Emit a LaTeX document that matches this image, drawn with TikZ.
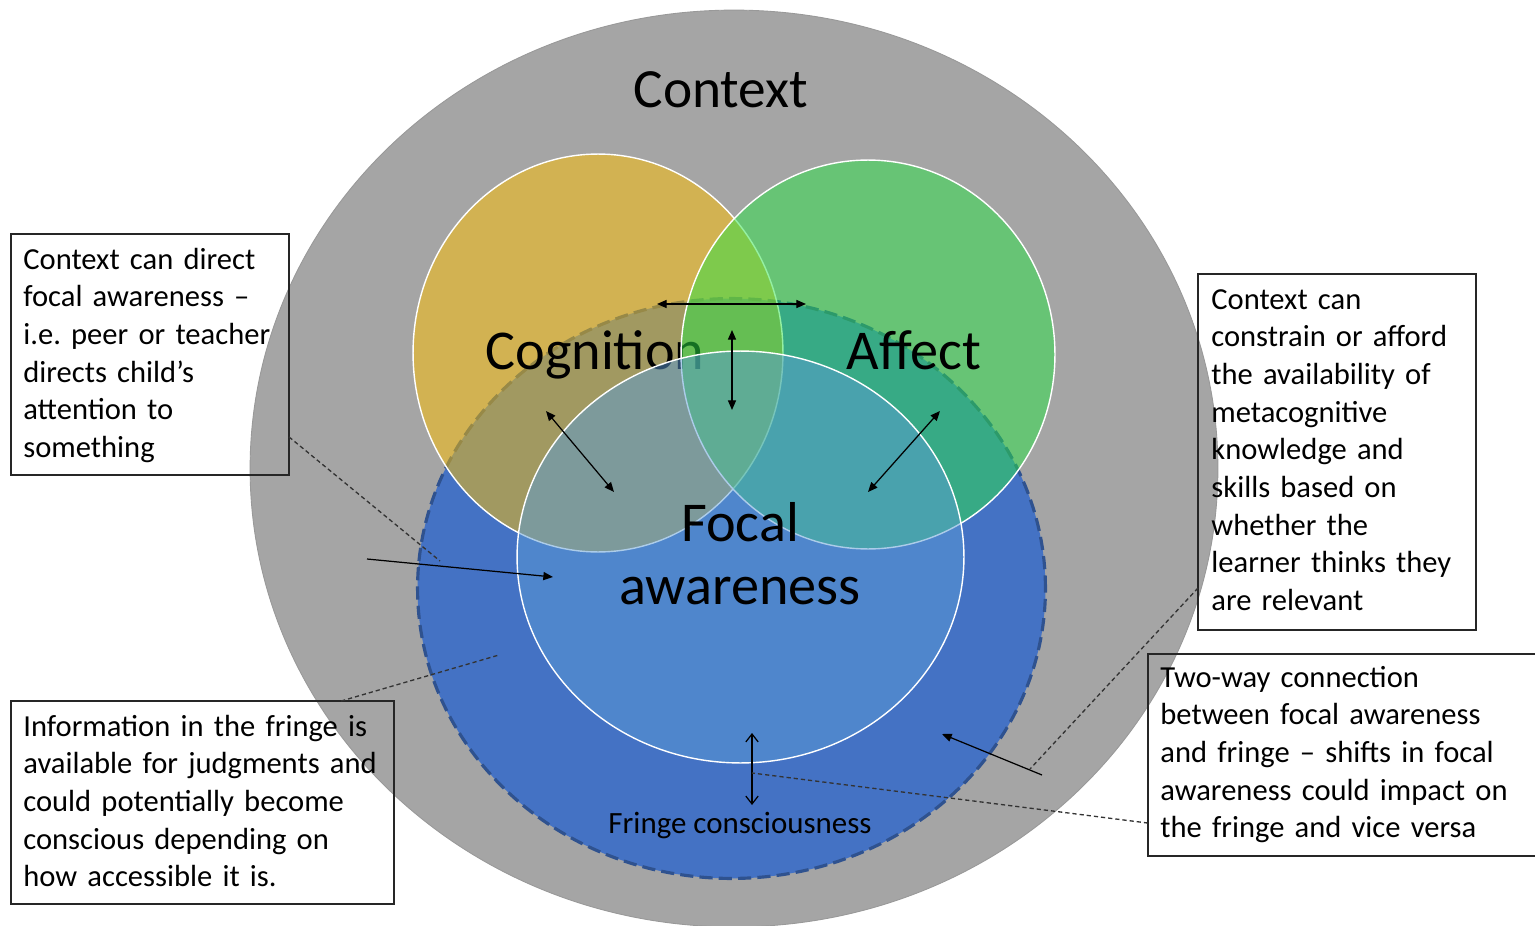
\documentclass[tikz,border=0pt]{standalone}
\usepackage{fontspec}
\setmainfont{Carlito}
\usetikzlibrary{arrows.meta,calc}
\definecolor{ctxgray}{HTML}{A5A5A5}
\definecolor{ctxedge}{HTML}{999999}
\definecolor{fringeblue}{HTML}{4472C4}
\definecolor{fringeedge}{HTML}{2F528F}
\definecolor{coggold}{HTML}{FFC000}
\definecolor{affgreen}{RGB}{43,227,71}
\definecolor{focblue}{HTML}{5B9BD5}
\definecolor{leader}{HTML}{333333}
\begin{document}
\frenchspacing
\begin{tikzpicture}[x=0.02cm,y=-0.02cm,
  bubble/.style={draw=white,line width=0.8pt,fill opacity=0.5},
  bigtxt/.style={font=\fontsize{32}{36}\selectfont,inner sep=0pt,anchor=base},
  notebox/.style={draw=black!85,line width=0.8pt,rectangle,inner sep=0pt,outer sep=0pt},
  notetxt/.style={font=\fontsize{17.4}{21.45}\selectfont,align=left,text width=12cm,inner sep=0pt,anchor=base west},
  onetip/.style={line width=0.7pt,-{Triangle[length=5.5pt,width=4.6pt]}},
  twotip/.style={line width=0.7pt,{Triangle[length=5.5pt,width=4.6pt]}-{Triangle[length=5.5pt,width=4.6pt]}},
  opentip/.style={line width=0.7pt,{Straight Barb[length=4.5pt,width=7pt]}-{Straight Barb[length=4.5pt,width=7pt]}},
  leaderline/.style={draw=leader,line width=0.75pt,dash pattern=on 2.4pt off 1.7pt},
]
\useasboundingbox (0,0) rectangle (1535,926);
\clip (0,0) rectangle (1535,926);

% outer context and the fringe
\fill[ctxgray,draw=ctxedge,line width=0.5pt] (734,468.5) ellipse [x radius=9.68cm, y radius=9.17cm];
\fill[fringeblue,draw=fringeedge,line width=1.8pt,dash pattern=on 7.5pt off 3.5pt]
  (731.5,588.5) ellipse [x radius=6.28cm, y radius=5.8cm];

% cognition, affect and focal awareness
\filldraw[bubble,fill=coggold] (598,353) ellipse [x radius=3.7cm, y radius=3.98cm];
\node[bigtxt] (cog) at (595,369) {Cognition};
\filldraw[bubble,fill=affgreen] (868,354.5) ellipse [x radius=3.74cm, y radius=3.89cm];
\filldraw[bubble,fill=focblue] (740.5,557) ellipse [x radius=4.47cm, y radius=4.12cm];
\node[bigtxt] (aff) at (914,369) {Affect};
\node[bigtxt,font=\fontsize{31.5}{36}\selectfont] (ctx) at (721,108) {Context};
\node[bigtxt,align=center,text width=8cm] (foc) at (740,541) {Focal\\awareness};
\node[inner sep=0pt,anchor=base,font=\fontsize{17.6}{21.45}\selectfont] (fringe) at (740,833) {Fringe consciousness};

% arrow end points
\coordinate (h1) at (657,304);  \coordinate (h2) at (806,304);
\coordinate (v1) at (732,330);  \coordinate (v2) at (732,410);
\coordinate (c1) at (546,411);  \coordinate (c2) at (614,492);
\coordinate (a1) at (940,411);  \coordinate (a2) at (868,492);
\coordinate (l1) at (367,559);  \coordinate (l2) at (553,577);
\coordinate (r1) at (1042,775); \coordinate (r2) at (942,734);
\coordinate (f1) at (752,733);  \coordinate (f2) at (752,805);

\draw[twotip] (h1) -- (h2);
\draw[twotip] (v1) -- (v2);
\draw[twotip] (c1) -- (c2);
\draw[twotip] (a1) -- (a2);
\draw[onetip] (l1) -- (l2);
\draw[onetip] (r1) -- (r2);
\draw[opentip] (f1) -- (f2);

% note boxes
\node[notebox,minimum width=5.56cm,minimum height=4.82cm] (box1) at (150,354.5) {};
\node[notebox,minimum width=7.66cm,minimum height=4.06cm] (box2) at (202.5,802.5) {};
\node[notebox,minimum width=5.56cm,minimum height=7.12cm] (box3) at (1337,452) {};
\node[notebox,minimum width=7.94cm,minimum height=4.04cm] (box4) at (1346.5,755) {};

\node[notetxt] (t1) at ($(box1.north west)+(12,35)$)
  {Context can direct\\focal awareness –\\i.e. peer or teacher\\directs child’s\\attention to\\something};
\node[notetxt] (t2) at ($(box2.north west)+(12,35)$)
  {Information in the fringe is\\available for judgments and\\could potentially become\\conscious depending on\\how accessible it is.};
\node[notetxt] (t3) at ($(box3.north west)+(13,35)$)
  {Context can\\constrain or afford\\the availability of\\metacognitive\\knowledge and\\skills based on\\whether the\\learner thinks they\\are relevant};
\node[notetxt] (t4) at ($(box4.north west)+(12,33)$)
  {Two-way connection\\between focal awareness\\and fringe – shifts in focal\\awareness could impact on\\the fringe and vice versa};

% leader lines from the notes
\coordinate (e1) at (440,561);
\coordinate (e2) at (499,655);
\coordinate (e3) at (1030,769);
\coordinate (e4) at (752,773);
\draw[leaderline] ($(box1.south east)!0.158!(box1.north east)$) -- (e1);
\draw[leaderline] ($(box2.north west)!0.862!(box2.north east)$) -- (e2);
\draw[leaderline] ($(box3.south west)!0.118!(box3.north west)$) -- (e3);
\draw[leaderline] ($(box4.south west)!0.163!(box4.north west)$) -- (e4);
\end{tikzpicture}
\end{document}
